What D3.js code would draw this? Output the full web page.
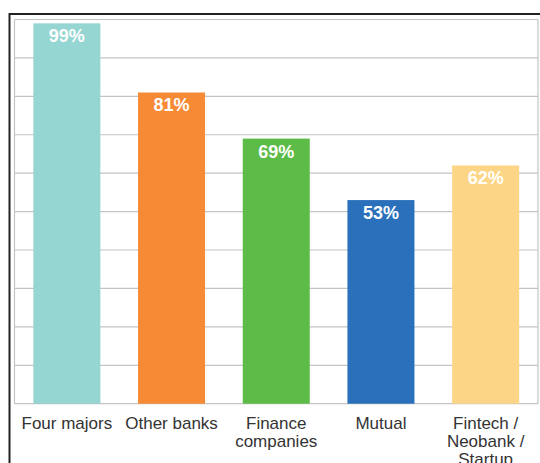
<!DOCTYPE html>
<html>
<head>
<meta charset="utf-8">
<script src="https://cdn.jsdelivr.net/npm/d3@7"></script>
<style>
  body { margin: 0; background: #fff; }
  svg { display: block; font-family: "Liberation Sans", Arial, sans-serif; }
</style>
</head>
<body>
<div id="chart"></div>
<script>
var categories = ["Four majors", "Other banks", "Finance companies", "Mutual", "Fintech / Neobank / Startup"];
var labelLines = [["Four majors"], ["Other banks"], ["Finance", "companies"], ["Mutual"], ["Fintech /", "Neobank /", "Startup"]];
var values = [99, 81, 69, 53, 62];
var colors = ["#95d5d2", "#f68a35", "#5dbb47", "#2a70ba", "#fcd686"];
var yTicks = [0, 10, 20, 30, 40, 50, 60, 70, 80, 90, 100];

var width = 540, height = 463;
var svg = d3.select("#chart").append("svg")
    .attr("width", width)
    .attr("height", height);

// outer black frame (runs off the right and bottom)
svg.append("rect")
    .attr("x", 9.5).attr("y", 14)
    .attr("width", 600).attr("height", 600)
    .attr("fill", "none")
    .attr("stroke", "#222")
    .attr("stroke-width", 2);

var plotLeft = 14.5, plotRight = 538, plotTop = 19.5, plotBottom = 403.7;

var xScale = d3.scaleBand()
    .domain(categories)
    .range([plotLeft, plotRight])
    .paddingInner(0.36)
    .paddingOuter(0.18);

var yScale = d3.scaleLinear().domain([0, 100]).range([plotBottom, plotTop]);

// grid
svg.append("g").attr("id", "grid")
  .selectAll("line")
  .data(yTicks)
  .enter()
  .append("line")
  .attr("x1", plotLeft).attr("x2", plotRight)
  .attr("y1", function(d) { return yScale(d); })
  .attr("y2", function(d) { return yScale(d); })
  .attr("stroke", "#c4c4c4")
  .attr("stroke-width", 1.2);

// plot border sides
svg.append("line").attr("x1", plotLeft).attr("x2", plotLeft).attr("y1", plotTop).attr("y2", plotBottom)
   .attr("stroke", "#c4c4c4").attr("stroke-width", 1.2);
svg.append("line").attr("x1", plotRight).attr("x2", plotRight).attr("y1", plotTop).attr("y2", plotBottom)
   .attr("stroke", "#c4c4c4").attr("stroke-width", 1.2);

// bars
svg.selectAll("rect.bar")
  .data(values)
  .enter()
  .append("rect")
  .attr("class", "bar")
  .attr("x", function(d, i) { return xScale(categories[i]); })
  .attr("y", function(d) { return yScale(d); })
  .attr("width", xScale.bandwidth())
  .attr("height", function(d) { return yScale(0) - yScale(d); })
  .attr("fill", function(d, i) { return colors[i]; });

// value labels
svg.selectAll("text.val")
  .data(values)
  .enter()
  .append("text")
  .attr("class", "val")
  .attr("x", function(d, i) { return xScale(categories[i]) + xScale.bandwidth() / 2; })
  .attr("y", function(d) { return yScale(d) + 19; })
  .attr("text-anchor", "middle")
  .attr("fill", "#fff")
  .style("font-size", "18px")
  .style("font-weight", "bold")
  .text(function(d) { return d + "%"; });

// category labels
var xAxis = svg.append("g").attr("id", "xAxisG");
labelLines.forEach(function(lines, i) {
    var cx = xScale(categories[i]) + xScale.bandwidth() / 2;
    var t = xAxis.append("text")
        .attr("x", cx)
        .attr("y", 429)
        .attr("text-anchor", "middle")
        .attr("fill", "#333")
        .style("font-size", "17px");
    lines.forEach(function(l, j) {
        t.append("tspan")
         .attr("x", cx)
         .attr("dy", j === 0 ? 0 : 18)
         .text(l);
    });
});
</script>
</body>
</html>
